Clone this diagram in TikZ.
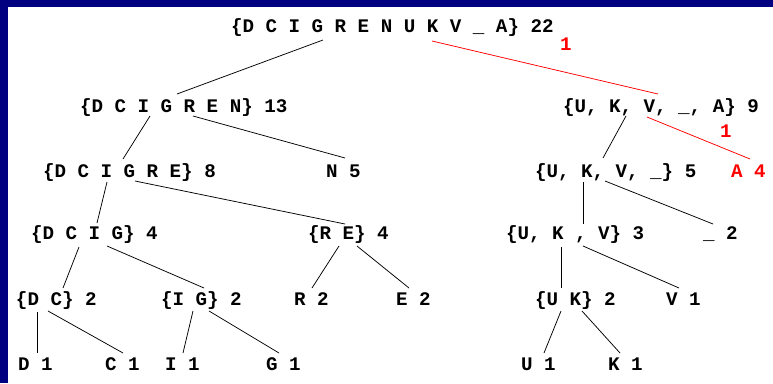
\documentclass[tikz,border=0pt]{standalone}
\usepackage{fontspec}
\setmonofont{Liberation Mono}
\definecolor{navy}{RGB}{0,0,128}
\definecolor{hred}{RGB}{255,0,0}
\tikzset{
  lbl/.style={anchor=base west,inner sep=0pt,outer sep=0pt,font=\fontsize{19.2}{20}\selectfont\ttfamily\bfseries},
  rlbl/.style={lbl,text=hred},
  edge/.style={draw=black,line width=0.75pt},
  redge/.style={draw=hred,line width=0.75pt}
}
\begin{document}
\begin{tikzpicture}[x=1pt,y=-1pt]
\useasboundingbox (0,0) rectangle (773,383);
\fill[white] (0,0) rectangle (773,383);
\fill[navy] (0,0) rectangle (773,7);
\fill[navy] (0,0) rectangle (8,383);
% nodes
\node[lbl] (root) at (231,32) {\{D C I G R E N U K V \_ A\} 22};
\node[rlbl] (w1) at (560,50) {1};
\node[lbl] (n13) at (80,112) {\{D C I G R E N\} 13};
\node[lbl] (n9) at (563,112) {\{U, K, V, \_, A\} 9};
\node[rlbl] (w2) at (720,137) {1};
\node[lbl] (n8) at (43,177) {\{D C I G R E\} 8};
\node[lbl] (n5) at (326,177) {N 5};
\node[lbl] (n5b) at (535,177) {\{U, K, V, \_\} 5};
\node[rlbl] (a4) at (731,177) {A 4};
\node[lbl] (dcig) at (31,239) {\{D C I G\} 4};
\node[lbl] (re) at (308,239) {\{R E\} 4};
\node[lbl] (ukv) at (506,239) {\{U, K , V\} 3};
\node[lbl] (us2) at (703,239) {\_ 2};
\node[lbl] (dc) at (16,305) {\{D C\} 2};
\node[lbl] (ig) at (161,305) {\{I G\} 2};
\node[lbl] (r2) at (294,305) {R 2};
\node[lbl] (e2) at (396,305) {E 2};
\node[lbl] (uk) at (535,305) {\{U K\} 2};
\node[lbl] (v1) at (666,305) {V 1};
\node[lbl] (d1) at (18,370) {D 1};
\node[lbl] (c1) at (105,370) {C 1};
\node[lbl] (i1) at (165,370) {I 1};
\node[lbl] (g1) at (266,370) {G 1};
\node[lbl] (u1) at (521,370) {U 1};
\node[lbl] (k1) at (608,370) {K 1};
% edges
\draw[edge] ([shift={(92,8)}]root.base west) -- ([shift={(97,-18)}]n13.base west);
\draw[redge] ([shift={(201,9)}]root.base west) -- ([shift={(95,-18)}]n9.base west);
\draw[edge] ([shift={(70,4)}]n13.base west) -- ([shift={(80,-18)}]n8.base west);
\draw[edge] ([shift={(113,4)}]n13.base west) -- ([shift={(19,-19)}]n5.base west);
\draw[edge] ([shift={(63,4)}]n9.base west) -- ([shift={(68,-19)}]n5b.base west);
\draw[redge] ([shift={(84,5)}]n9.base west) -- ([shift={(19,-18)}]a4.base west);
\draw[edge] ([shift={(64,5)}]n8.base west) -- ([shift={(66,-16)}]dcig.base west);
\draw[edge] ([shift={(92,4)}]n8.base west) -- ([shift={(37,-15)}]re.base west);
\draw[edge] ([shift={(48,5)}]n5b.base west) -- ([shift={(77,-15)}]ukv.base west);
\draw[edge] ([shift={(70,4)}]n5b.base west) -- ([shift={(10,-15)}]us2.base west);
\draw[edge] ([shift={(48,8)}]dcig.base west) -- ([shift={(47,-17)}]dc.base west);
\draw[edge] ([shift={(76,7)}]dcig.base west) -- ([shift={(43,-17)}]ig.base west);
\draw[edge] ([shift={(31,7)}]re.base west) -- ([shift={(18,-17)}]r2.base west);
\draw[edge] ([shift={(49,7)}]re.base west) -- ([shift={(13,-17)}]e2.base west);
\draw[edge] ([shift={(55,8)}]ukv.base west) -- ([shift={(26,-17)}]uk.base west);
\draw[edge] ([shift={(77,7)}]ukv.base west) -- ([shift={(13,-17)}]v1.base west);
\draw[edge] ([shift={(21,7)}]dc.base west) -- ([shift={(19,-17)}]d1.base west);
\draw[edge] ([shift={(32,6)}]dc.base west) -- ([shift={(18,-17)}]c1.base west);
\draw[edge] ([shift={(32,6)}]ig.base west) -- ([shift={(18,-17)}]i1.base west);
\draw[edge] ([shift={(48,6)}]ig.base west) -- ([shift={(13,-17)}]g1.base west);
\draw[edge] ([shift={(26,6)}]uk.base west) -- ([shift={(23,-17)}]u1.base west);
\draw[edge] ([shift={(47,6)}]uk.base west) -- ([shift={(12,-17)}]k1.base west);
\end{tikzpicture}
\end{document}
